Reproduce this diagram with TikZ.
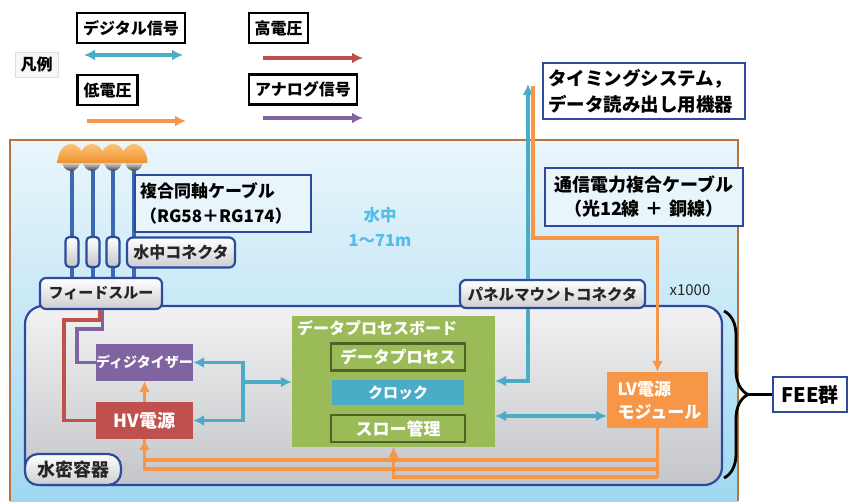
\documentclass[tikz,border=0pt]{standalone}
\usepackage{fontspec}
\setmainfont{Noto Sans CJK JP}
\usepackage{xcolor}
\definecolor{SigCyan}{HTML}{4BACC6}
\definecolor{LvOrange}{HTML}{F79646}
\definecolor{HvRed}{HTML}{C0504D}
\definecolor{AnaPurple}{HTML}{8064A2}
\definecolor{BoardGreen}{HTML}{9BBB59}
\definecolor{BoardDark}{HTML}{4F6228}
\definecolor{FrameBlue}{HTML}{2E4A9C}
\definecolor{CableBlue}{HTML}{3C68B2}
\definecolor{WaterTop}{HTML}{EAF6FC}
\definecolor{WaterBot}{HTML}{9FD8F0}
\definecolor{NoteFill}{HTML}{E8F5FB}
\definecolor{TankBrown}{HTML}{B8743E}
\definecolor{HullTop}{HTML}{F2F2F3}
\definecolor{HullBot}{HTML}{C3C5C8}
\definecolor{PmtLight}{HTML}{FBC574}
\definecolor{PmtOrange}{HTML}{EE9032}
\definecolor{DepthBlue}{HTML}{55BDE8}
\usepackage{tikz}
\usetikzlibrary{arrows.meta,positioning,decorations.pathreplacing}
\tikzset{
  keybox/.style={
    draw=black,
    line width=2.2pt,
    fill=white,
    inner sep=0pt,
    minimum height=30pt,
    font=\fontsize{16}{18}\selectfont\bfseries
  },
  tagbox/.style={
    draw=FrameBlue,
    line width=2.2pt,
    rounded corners=6pt,
    top color=white,
    bottom color=HullBot!85,
    inner sep=0pt,
    minimum height=30pt,
    text=black!85,
    font=\fontsize{15.5}{18}\selectfont\bfseries
  },
  plugbox/.style={
    draw=FrameBlue,
    line width=2.2pt,
    rounded corners=4pt,
    top color=white,
    bottom color=HullBot,
    inner sep=0pt,
    minimum width=13pt,
    minimum height=30pt
  },
  notebox/.style={
    draw=FrameBlue,
    line width=2.2pt,
    fill=#1,
    inner xsep=5pt,
    inner ysep=0pt,
    align=left,
    text=black
  },
  notebox/.default=white,
  hull/.style={
    draw=FrameBlue,
    line width=2.2pt,
    rounded corners=18pt,
    top color=HullTop,
    bottom color=HullBot,
    inner sep=0pt
  },
  unitbox/.style={
    fill=#1,
    text=white,
    inner sep=0pt,
    font=\fontsize{15}{18}\selectfont\bfseries
  },
  subbox/.style={
    draw=BoardDark,
    line width=2.8pt,
    fill=BoardGreen,
    text=white,
    inner sep=0pt,
    minimum width=134pt,
    minimum height=27pt,
    font=\fontsize{16.5}{18}\selectfont\bfseries
  },
  cable/.style={draw=CableBlue, line width=4.5pt},
  sigline/.style={draw=SigCyan, line width=3.2pt},
  sigarrow/.style={sigline, -{Latex[length=11pt,width=11pt]}},
  sigboth/.style={sigline, {Latex[length=11pt,width=11pt]}-{Latex[length=11pt,width=11pt]}},
  lvline/.style={draw=LvOrange, line width=3.2pt},
  lvarrow/.style={lvline, -{Latex[length=11pt,width=11pt]}},
  hvline/.style={draw=HvRed, line width=3.2pt},
  hvarrow/.style={hvline, -{Latex[length=11pt,width=11pt]}},
  analine/.style={draw=AnaPurple, line width=3.2pt},
  anaarrow/.style={analine, -{Latex[length=11pt,width=11pt]}}
}

\begin{document}
\begin{tikzpicture}[x=1pt,y=-1pt]
  \useasboundingbox (0,0) rectangle (848,501);

  % legend
  \node[keybox, draw=gray!25, line width=1pt, fill=gray!6, minimum width=43pt, minimum height=25pt] (legend) at (36.5,64.5) {凡例};
  \node[keybox, minimum width=108pt] (keydig) at (131,28) {デジタル信号};
  \node[keybox, minimum width=59pt] (keyhv) at (278.5,28) {高電圧};
  \node[keybox, minimum width=60pt] (keylv) at (107.5,90) {低電圧};
  \node[keybox, minimum width=108pt] (keyana) at (303,89.5) {アナログ信号};
  \coordinate (digA) at (84,55);   \coordinate (digB) at (183,55);
  \coordinate (hvA) at (263,58);   \coordinate (hvB) at (363,58);
  \coordinate (lvA) at (87,121);   \coordinate (lvB) at (186,121);
  \coordinate (anaA) at (263,118); \coordinate (anaB) at (363,118);
  \draw[sigboth] (digA) -- (digB);
  \draw[hvarrow] (hvA) -- (hvB);
  \draw[lvarrow] (lvA) -- (lvB);
  \draw[anaarrow] (anaA) -- (anaB);

  % water
  \path[top color=WaterTop, bottom color=WaterBot] (10,140) rectangle (738,501);
  \draw[TankBrown, line width=1.8pt] (10,501) -- (10,140) -- (738,140) -- (738,501);

  % PMTs and coax cables
  \foreach \x [count=\i] in {72,93,113,134}{\coordinate (pmt\i) at (\x,168);}
  \coordinate (feedtop) at (101,280);
  \foreach \i in {1,...,4}{\draw[cable] (pmt\i) -- (pmt\i |- feedtop);}
  \foreach \x in {71,92,113,134}{
    \path[top color=gray!5, bottom color=black!75] (\x-9,161) arc[start angle=180, end angle=0, x radius=9, y radius=10] -- cycle;
    \path[top color=PmtLight, bottom color=PmtOrange] (\x-13.5,163) arc[start angle=180, end angle=360, x radius=13.5, y radius=19] -- cycle;
  }
  \node[notebox=NoteFill, text width=166pt, minimum height=57pt, font=\fontsize{17}{25}\selectfont\bfseries] (coax) at (223,203.5) {複合同軸ケーブル\\（RG58＋RG174）};
  \foreach \x [count=\i] in {72,93,113}{\node[plugbox] (plug\i) at (\x,252) {};}
  \node[tagbox, minimum width=108pt, font=\fontsize{16}{18}\selectfont\bfseries] (wconn) at (181,252.5) {水中コネクタ};
  \node[text=DepthBlue, align=center, font=\fontsize{16.5}{25}\selectfont\bfseries] (depth) at (380,227) {水中\\1〜71m};

  % pressure vessel
  \node[hull, minimum width=697pt, minimum height=179pt] (hull) at (373.5,395.5) {};
  \node[tagbox, minimum width=122pt, minimum height=31pt, font=\fontsize{15}{18}\selectfont\bfseries] (feed) at (101,293.5) {フィードスルー};
  \node[tagbox, minimum width=185pt, minimum height=28pt] (panel) at (552.5,294) {パネルマウントコネクタ};
  \node[tagbox, rounded corners=13pt, minimum width=96pt, minimum height=31pt, font=\fontsize{18}{20}\selectfont\bfseries] (hullname) at (73,469.5) {水密容器};

  \node[unitbox=BoardGreen, minimum width=203pt, minimum height=131pt] (board) at (393.5,381) {};
  \node[anchor=north west, inner sep=0pt, text=white, font=\fontsize{16}{18}\selectfont\bfseries] (boardname) at (297,320) {データプロセスボード};
  \node[subbox] (dproc) at (398,357) {データプロセス};
  \node[unitbox=SigCyan, minimum width=132pt, minimum height=25pt] (clock) at (398,392.5) {クロック};
  \node[subbox, font=\fontsize{17}{18}\selectfont\bfseries] (slow) at (398,428.5) {スロー管理};

  \node[unitbox=AnaPurple, minimum width=97pt, minimum height=37pt, font=\fontsize{14}{16}\selectfont\bfseries] (digi) at (144.5,362.5) {ディジタイザー};
  \node[unitbox=HvRed, minimum width=97pt, minimum height=37pt, font=\fontsize{18}{20}\selectfont\bfseries] (hvps) at (144.5,420.5) {HV電源};
  \node[unitbox=LvOrange, text width=80pt, inner xsep=10.5pt, minimum height=56pt, align=left, font=\fontsize{17}{23}\selectfont\bfseries] (lvps) at (657.5,400) {LV電源\\モジュール};

  % outside
  \node[notebox, text width=192pt, minimum height=56pt, font=\fontsize{18.5}{26}\selectfont\bfseries] (timing) at (644,91) {タイミングシステム，\\データ読み出し用機器};
  \node[notebox=NoteFill, text width=188pt, align=center, minimum height=58pt, font=\fontsize{18}{24}\selectfont\bfseries] (compcab) at (644,197) {通信電力複合ケーブル\\（光12線 ＋ 銅線）};
  \node[text=black!85, font=\fontsize{15}{18}\selectfont] (mult) at (690,290) {x1000};
  \node[notebox, inner sep=0pt, minimum width=74pt, minimum height=35pt, font=\fontsize{20}{22}\selectfont\bfseries] (fee) at (810,394.5) {FEE群};
  \draw[decorate, decoration={brace, amplitude=24pt}, line width=2.8pt] (724,311) -- (724,478);
  \coordinate (feetip) at (748,394.5);
  \draw[line width=3.2pt] (feetip) -- (fee.west);

  % digital links
  \coordinate (split) at (243,382);
  \draw[sigarrow] (split) |- (digi);
  \draw[sigarrow] (split) |- (hvps);
  \draw[sigarrow] (split) -- (split -| board.west);
  \coordinate (uptip) at (528,84);
  \draw[sigarrow] (panel.north -| uptip) -- (uptip);
  \draw[sigarrow] (panel.south -| uptip) |- (board.east);
  \coordinate (lvlink) at (550,416);
  \draw[sigboth] (board.east |- lvlink) -- (lvps.west |- lvlink);

  % power
  \coordinate (cabtop) at (533,86);
  \coordinate (cabbend) at (533,238);
  \draw[lvarrow] (cabtop) -- (cabbend) -| (lvps.north);
  \draw[lvarrow] (hvps.north) -- (digi.south);
  \coordinate (busA) at (657.5,460);
  \coordinate (busB) at (657.5,469);
  \coordinate (busC) at (657.5,477);
  \draw[lvline] (lvps.south) -- (busC);
  \draw[lvline] (busA) -| (hvps.south);
  \draw[lvarrow] (busB) -| (hvps.south);
  \draw[lvarrow] (busC) -| (board.south);

  % HV and analog to feedthrough
  \coordinate (hvbend) at (64,320);
  \coordinate (anabend) at (77,329);
  \draw[hvline] (hvps.west) -| (hvbend) -| ([xshift=-1.5pt]feed.south);
  \draw[analine] (digi.west) -| (anabend) -| ([xshift=1.5pt]feed.south);
\end{tikzpicture}
\end{document}
